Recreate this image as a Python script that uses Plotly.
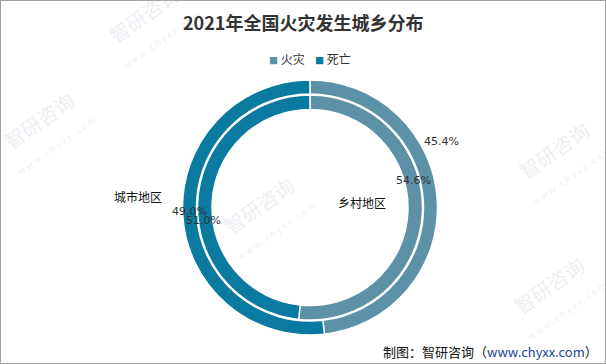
import plotly.graph_objects as go

# ---- data ----
regions = ["乡村地区", "城市地区"]
fire_share = [48.2, 51.8]      # outer ring (as drawn)
death_share = [51.6, 48.4]     # inner ring (as drawn)
legend_names = ["火灾", "死亡"]
pct_labels = ["45.4%", "54.6%", "49.0%", "51.0%"]
title_text = "2021年全国火灾发生城乡分布"
source_text = "制图：智研咨询（<span style='color:#1c3f94'>www.chyxx.com</span>）"

LIGHT = "#5d91a8"
DARK = "#0a7aa1"
W, H = 606, 364

def px(x):
    return x / W

def py(y):
    return 1 - y / H

cx, cy = 310, 207.5
r_out, r_in = 127.5, 112.5

fig = go.Figure()
fig.add_trace(go.Pie(
    labels=regions, values=fire_share, name=legend_names[0],
    sort=False, direction="clockwise", rotation=0,
    hole=113.5 / r_out, textinfo="none", hoverinfo="label+percent",
    marker=dict(colors=[LIGHT, DARK], line=dict(color="white", width=1.5)),
    domain=dict(x=[px(cx - r_out), px(cx + r_out)], y=[py(cy + r_out), py(cy - r_out)]),
    showlegend=False,
))
fig.add_trace(go.Pie(
    labels=regions, values=death_share, name=legend_names[1],
    sort=False, direction="clockwise", rotation=0,
    hole=98.0 / r_in, textinfo="none", hoverinfo="label+percent",
    marker=dict(colors=[LIGHT, DARK], line=dict(color="white", width=1.5)),
    domain=dict(x=[px(cx - r_in), px(cx + r_in)], y=[py(cy + r_in), py(cy - r_in)]),
    showlegend=False,
))

def label(x, y, text, size, color, family="Noto Sans CJK SC", xanchor="center", angle=0):
    return dict(x=px(x), y=py(y), xref="paper", yref="paper", showarrow=False,
                xanchor=xanchor, yanchor="middle", text=text, textangle=angle,
                font=dict(size=size, color=color, family=family))

ann = []
# watermarks
wm_pos = [(45, 130), (265, 215), (560, 160), (150, 24), (555, 295)]
for x, y in wm_pos:
    ann.append(label(x, y, "智研咨询<br><span style='font-size:9px'>w w w . c h y x x . c o m</span>",
                     20, "rgba(205,214,224,0.4)", angle=-35))

ann.append(label(W / 2, 22, "<b>" + title_text + "</b>", 18, "#333333"))
# legend
ann.append(label(287, 59, f"<span style='color:{LIGHT};font-size:9px'>■</span> {legend_names[0]}", 12, "#333333"))
ann.append(label(333, 59, f"<span style='color:{DARK};font-size:9px'>■</span> {legend_names[1]}", 12, "#333333"))
# region labels
ann.append(label(138, 196, regions[1], 12, "#111111"))
ann.append(label(362, 202, regions[0], 12, "#111111"))
# percentage labels
for (x, y), t in zip([(442, 142), (413, 180), (189, 211), (203, 221)], pct_labels):
    ann.append(label(x, y, t, 11, "#333333", family="DejaVu Sans"))
# source
ann.append(label(600, 351, source_text, 13, "#111111", xanchor="right"))

fig.update_layout(
    width=W, height=H, margin=dict(l=0, r=0, t=0, b=0),
    paper_bgcolor="white", plot_bgcolor="white",
    annotations=ann,
    shapes=[dict(type="rect", xref="paper", yref="paper", x0=0, y0=0, x1=1, y1=1,
                 line=dict(color="#a0a0a0", width=2))],
)
fig.write_html("out.html", config={"displayModeBar": False},
               post_script="document.body.style.margin='0';document.body.style.overflow='hidden';")
